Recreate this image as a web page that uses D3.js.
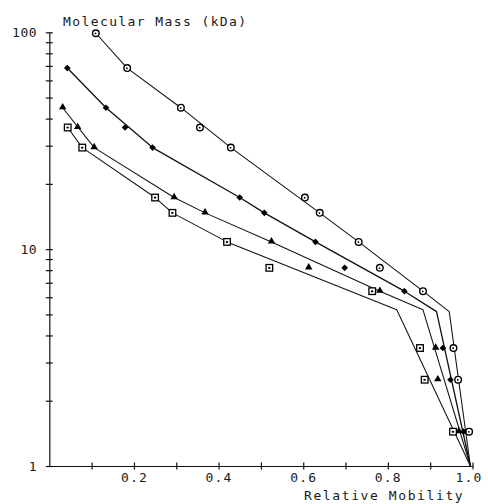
<!DOCTYPE html>
<html>
<head>
<meta charset="utf-8">
<script src="https://cdn.jsdelivr.net/npm/d3@7"></script>
<style>
  html, body { margin: 0; padding: 0; background: #fff; }
  svg { display: block; }
  text { font-family: "DejaVu Sans Mono", "Liberation Mono", monospace; fill: #1a1a1a; }
</style>
</head>
<body>
<svg id="chart" width="488" height="504"></svg>
<script>
// ---- data ----
const massKDa = [99, 68.4, 44.9, 36.4, 29.4, 17.3, 14.7, 10.8, 8.2, 6.4, 3.5, 2.5, 1.44];

const circleMobility   = [0.110, 0.184, 0.311, 0.356, 0.429, 0.604, 0.639, 0.731, 0.781, 0.883, 0.955, 0.966, 0.992];
const diamondMobility  = [null, 0.0425, 0.134, 0.179, 0.244, 0.450, 0.508, 0.629, 0.698, 0.839, 0.930, 0.948, 0.979];
const triangleMobility = [null, null, 0.0316, 0.0671, 0.106, 0.295, 0.368, 0.525, 0.613, 0.781, 0.913, 0.918, 0.968];
const squareMobility   = [null, null, null, 0.0435, 0.0779, 0.250, 0.291, 0.420, 0.520, 0.763, 0.876, 0.887, 0.954];

// fitted calibration lines: [mobility, mass]
const circleFit   = [[0.110, 99], [0.184, 68.4], [0.311, 44.9], [0.429, 29.4], [0.639, 14.7], [0.731, 10.8], [0.883, 6.4], [0.945, 5.15], [0.995, 1]];
const diamondFit  = [[0.0425, 68.4], [0.134, 44.9], [0.244, 29.4], [0.450, 17.3], [0.508, 14.7], [0.629, 10.8], [0.839, 6.4], [0.915, 5.15], [0.995, 1]];
const triangleFit = [[0.0316, 44.9], [0.106, 29.4], [0.295, 17.3], [0.368, 14.7], [0.525, 10.8], [0.781, 6.4], [0.883, 5.25], [0.995, 1]];
const squareFit   = [[0.0435, 36.4], [0.0779, 29.4], [0.250, 17.3], [0.291, 14.7], [0.420, 10.8], [0.821, 5.25], [0.995, 1]];

const xTicks = [0.1, 0.2, 0.3, 0.4, 0.5, 0.6, 0.7, 0.8, 0.9, 1.0];
const xTickLabels = [0.2, 0.4, 0.6, 0.8, 1.0];
const yTicks = [1,2,3,4,5,6,7,8,9,10,20,30,40,50,60,70,80,90,100];
const yTickLabels = [1, 10, 100];

const yTitle = "Molecular Mass (kDa)";
const xTitle = "Relative Mobility";

// ---- drawing ----
const svg = d3.select("#chart");
const x = d3.scaleLinear().domain([0, 1]).range([49.3, 472.5]);
const y = d3.scaleLog().domain([1, 100]).range([466, 32.3]);

const ink = "#111";

// y axis
const yAxis = d3.axisLeft(y)
  .tickValues(yTicks)
  .tickSizeOuter(0)
  .tickSizeInner(3)
  .tickFormat(d => yTickLabels.includes(d) ? String(d) : "");
const gy = svg.append("g").attr("transform", `translate(${x(0)},0)`).call(yAxis);
gy.select(".domain").attr("stroke", ink).attr("stroke-width", 1.2);
gy.selectAll(".tick line").attr("x1", 3.5).attr("x2", -3.5).attr("stroke", ink).attr("stroke-width", 1.2);
gy.selectAll(".tick text").attr("x", -12).attr("font-size", 13).attr("letter-spacing", 0.6)
  .attr("font-family", "DejaVu Sans Mono").attr("fill", "#1a1a1a");

// x axis
const xAxis = d3.axisBottom(x)
  .tickValues(xTicks)
  .tickSizeOuter(0)
  .tickSizeInner(3)
  .tickFormat(d => xTickLabels.some(v => Math.abs(v - d) < 1e-9) ? d3.format(".1f")(d) : "");
const gx = svg.append("g").attr("transform", `translate(0,${y(1)})`).call(xAxis);
gx.select(".domain").attr("stroke", ink).attr("stroke-width", 1.2);
gx.selectAll(".tick line").attr("y1", -3.5).attr("y2", 3.5).attr("stroke", ink).attr("stroke-width", 1.2);
gx.selectAll(".tick text").attr("y", 7).attr("font-size", 13).attr("letter-spacing", 1.2)
  .attr("font-family", "DejaVu Sans Mono").attr("fill", "#1a1a1a")
  .attr("dx", d => Math.abs(d - 1) < 1e-9 ? -4 : 0);

// titles
svg.append("text").attr("x", 63).attr("y", 26)
  .attr("font-size", 13).attr("letter-spacing", 1.4).text(yTitle);
svg.append("text").attr("x", 304).attr("y", 499.5)
  .attr("font-size", 13).attr("letter-spacing", 1.6).text(xTitle);

// fit lines
const line = d3.line().x(d => x(d[0])).y(d => y(d[1]));
[circleFit, diamondFit, triangleFit, squareFit].forEach((fit, i) => {
  svg.append("path").attr("d", line(fit))
    .attr("fill", "none").attr("stroke", ink)
    .attr("stroke-width", i === 1 ? 1.3 : 1.05)
    .attr("stroke-linejoin", "round");
});

// markers
function pts(mob) {
  return mob.map((v, i) => v == null ? null : [v, massKDa[i]]).filter(d => d);
}

const gm = svg.append("g");
// circles (open, with inner mark)
pts(circleMobility).forEach(d => {
  const cx = x(d[0]), cy = y(d[1]);
  gm.append("circle").attr("cx", cx).attr("cy", cy).attr("r", 3.3)
    .attr("fill", "#fff").attr("stroke", "#000").attr("stroke-width", 1.4);
  gm.append("circle").attr("cx", cx - 0.3).attr("cy", cy + 0.2).attr("r", 0.9).attr("fill", "#000");
});
// diamonds (filled, rotated squares)
const diamond = d3.symbol().type(d3.symbolSquare).size(22);
pts(diamondMobility).forEach(d => {
  gm.append("path").attr("d", diamond())
    .attr("transform", `translate(${x(d[0])},${y(d[1])}) rotate(45)`)
    .attr("fill", "#000");
});
// triangles (filled)
const tri = d3.symbol().type(d3.symbolTriangle).size(24);
pts(triangleMobility).forEach(d => {
  gm.append("path").attr("d", tri())
    .attr("transform", `translate(${x(d[0])},${y(d[1]) - 0.5})`)
    .attr("fill", "#000");
});
// squares (open, with inner mark)
pts(squareMobility).forEach(d => {
  const cx = x(d[0]), cy = y(d[1]);
  gm.append("rect").attr("x", cx - 3.3).attr("y", cy - 3.3).attr("width", 6.6).attr("height", 6.6)
    .attr("fill", "#fff").attr("stroke", "#000").attr("stroke-width", 1.3);
  gm.append("rect").attr("x", cx - 1.2).attr("y", cy - 0.8).attr("width", 2.2).attr("height", 1.8).attr("fill", "#000");
});
</script>
</body>
</html>
